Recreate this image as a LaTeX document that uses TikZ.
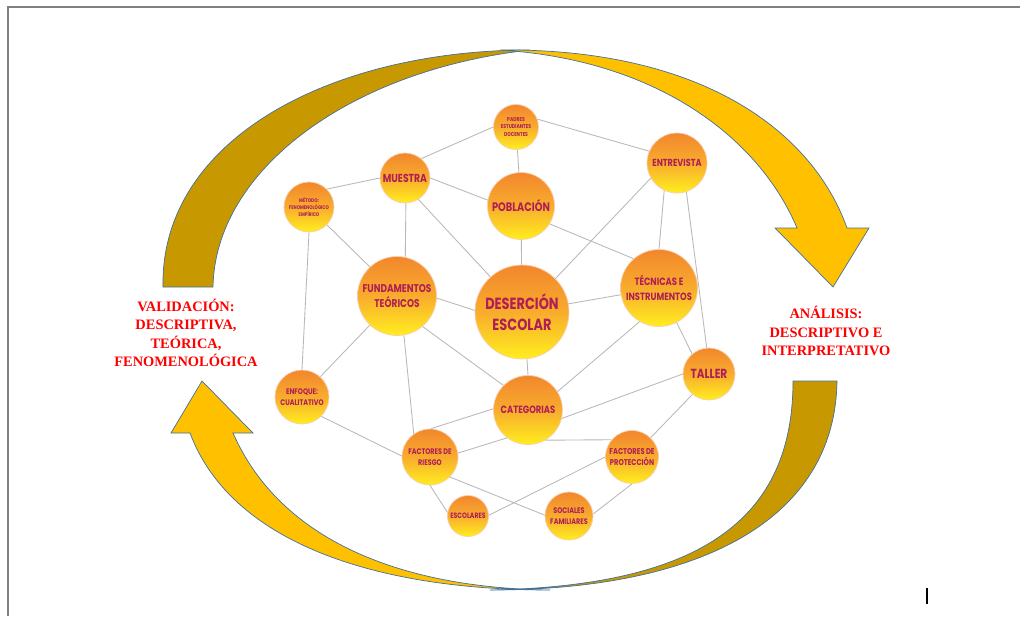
\documentclass[tikz,border=0pt]{standalone}
\usepackage{fontspec}
\newfontfamily\nodefont[FakeStretch=0.8]{Poppins}
\newfontfamily\rotfont{Liberation Serif}

\definecolor{oroclaro}{RGB}{255,192,0}
\definecolor{orooscuro}{RGB}{200,152,0}
\definecolor{borde}{RGB}{65,113,156}
\definecolor{texto}{RGB}{175,30,85}
\definecolor{naranja}{RGB}{242,135,45}
\definecolor{medio}{RGB}{248,172,45}
\definecolor{amarillo}{RGB}{255,238,30}
\definecolor{contorno}{RGB}{250,205,175}
\definecolor{linea}{RGB}{185,185,185}

\tikzset{
  burbuja/.style={circle, inner sep=0pt, align=center, text=texto, draw=contorno,
    line width=0.4pt, top color=naranja, bottom color=amarillo, middle color=medio},
  tam/.style 2 args={font=\nodefont\bfseries\fontsize{#1}{#2}\selectfont},
  enlace/.style={draw=linea, line width=0.5pt},
  flecha/.style={draw=borde, line width=0.4pt},
  rotulo/.style={align=center, text=red, font=\rotfont\bfseries\fontsize{8.2}{10.5}\selectfont}
}

\begin{document}
\begin{tikzpicture}[x=0.02cm, y=-0.02cm]
        \useasboundingbox (0,0) rectangle (1020,616);
        \draw[gray, line width=0.7pt] (8,616) -- (8,7) -- (1020,7);

        %Flechas
        \filldraw[flecha, fill=orooscuro] (163,287) .. controls (160,140) and (330,50) .. (530,50)
            .. controls (350,70) and (215,170) .. (213,287) -- cycle;
        \filldraw[flecha, fill=oroclaro] (500,50) .. controls (700,48) and (812,130) .. (847,228)
            -- (869,228) -- (833,287) -- (775,228) -- (797,228)
            .. controls (760,140) and (660,60) .. (500,50) -- cycle;
        \filldraw[flecha, fill=oroclaro] (202,381) -- (253,433) -- (233,433)
            .. controls (280,540) and (400,588) .. (550,590)
            .. controls (370,590) and (230,540) .. (190,433) -- (171,433) -- cycle;
        \filldraw[flecha, fill=orooscuro] (837,381) .. controls (835,520) and (700,590) .. (490,590)
            .. controls (700,586) and (793,520) .. (793,381) -- cycle;

        %Nodos
        \node[burbuja, tam={3.2}{4.5}, minimum size=0.9cm] (pad) at (516,127) {PADRES\\ESTUDIANTES\\DOCENTES};
        \node[burbuja, tam={6.6}{8}, minimum size=1.0cm] (mue) at (405,178) {MUESTRA};
        \node[burbuja, tam={3.0}{4.2}, minimum size=1.0cm] (met) at (309,207) {MÉTODO:\\FENOMENOLÓGICO\\EMPÍRICO};
        \node[burbuja, tam={7}{8}, minimum size=1.34cm] (pob) at (521,206) {POBLACIÓN};
        \node[burbuja, tam={5.8}{7}, minimum size=1.2cm] (ent) at (677,163) {ENTREVISTA};
        \node[burbuja, tam={6}{8.5}, minimum size=1.54cm] (tec) at (659,288) {TÉCNICAS E\\INSTRUMENTOS};
        \node[burbuja, tam={6.4}{8.8}, minimum size=1.58cm] (fun) at (397,296) {FUNDAMENTOS\\TEÓRICOS};
        \node[burbuja, tam={9.2}{12.3}, minimum size=1.88cm] (des) at (522,312) {DESERCIÓN\\ESCOLAR};
        \node[burbuja, tam={4.6}{6.4}, minimum size=1.08cm] (enf) at (302,397) {ENFOQUE:\\CUALITATIVO};
        \node[burbuja, tam={4.6}{6.4}, minimum size=1.12cm] (rie) at (430,457) {FACTORES DE\\RIESGO};
        \node[burbuja, tam={4.4}{5}, minimum size=0.82cm] (esc) at (468,516) {ESCOLARES};
        \node[burbuja, tam={6}{7}, minimum size=1.38cm] (cat) at (528,410) {CATEGORIAS};
        \node[burbuja, tam={7.5}{8}, minimum size=1.04cm] (tal) at (709,374) {TALLER};
        \node[burbuja, tam={4.8}{6.4}, minimum size=1.06cm] (pro) at (632,457) {FACTORES DE\\PROTECCIÓN};
        \node[burbuja, tam={4.6}{6.4}, minimum size=0.96cm] (soc) at (569,516) {SOCIALES\\FAMILIARES};

        %Conexiones
        \draw(mue.50) edge[enlace] (pad.180);
        \draw(pad) edge[enlace] (pob);
        \draw(pad.20) edge[enlace] (ent.157);
        \draw(met.45) edge[enlace] (mue.180);
        \draw(mue.0) edge[enlace] (pob.170);
        \draw(mue.-88) edge[enlace] (fun.78);
        \draw(mue.-58) edge[enlace] (des.132);
        \draw(met.-45) edge[enlace] (fun.133);
        \draw(met.-90) edge[enlace] (enf.90);
        \draw(pob) edge[enlace] (des);
        \draw(pob.-32) edge[enlace] (tec.131);
        \draw(ent.-150) edge[enlace] (des.45);
        \draw(ent.-115) edge[enlace] (tec.90);
        \draw(ent.-72) edge[enlace] (tal.95);
        \draw(tec.190) edge[enlace] (des.10);
        \draw(tec.-120) edge[enlace] (cat.32);
        \draw(tec.-63) edge[enlace] (tal.130);
        \draw(fun.-3) edge[enlace] (des.178);
        \draw(fun.-133) edge[enlace] (enf.48);
        \draw(fun.-80) edge[enlace] (rie.125);
        \draw(fun.-50) edge[enlace] (cat.135);
        \draw(des.-84) edge[enlace] (cat.90);
        \draw(enf.-45) edge[enlace] (rie.178);
        \draw(rie.88) edge[enlace] (cat.178);
        \draw(rie.8) edge[enlace] (cat.233);
        \draw(cat.-14) edge[enlace] (tal.180);
        \draw(cat.-60) edge[enlace] (pro.140);
        \draw(rie.-90) edge[enlace] (esc.170);
        \draw(rie.-45) edge[enlace] (soc.178);
        \draw(esc.2) edge[enlace] (pro.180);
        \draw(soc.5) edge[enlace] (pro.-90);
        \draw(pro.46) edge[enlace] (tal.-129);

        %Rotulos
        \node[rotulo] (val) at (186,333) {VALIDACIÓN:\\DESCRIPTIVA,\\TEÓRICA,\\FENOMENOLÓGICA};
        \node[rotulo] (ana) at (826,331) {ANÁLISIS:\\DESCRIPTIVO E\\INTERPRETATIVO};

        \draw[black, line width=0.6pt] (927,588) -- (927,604);
\end{tikzpicture}
\end{document}
